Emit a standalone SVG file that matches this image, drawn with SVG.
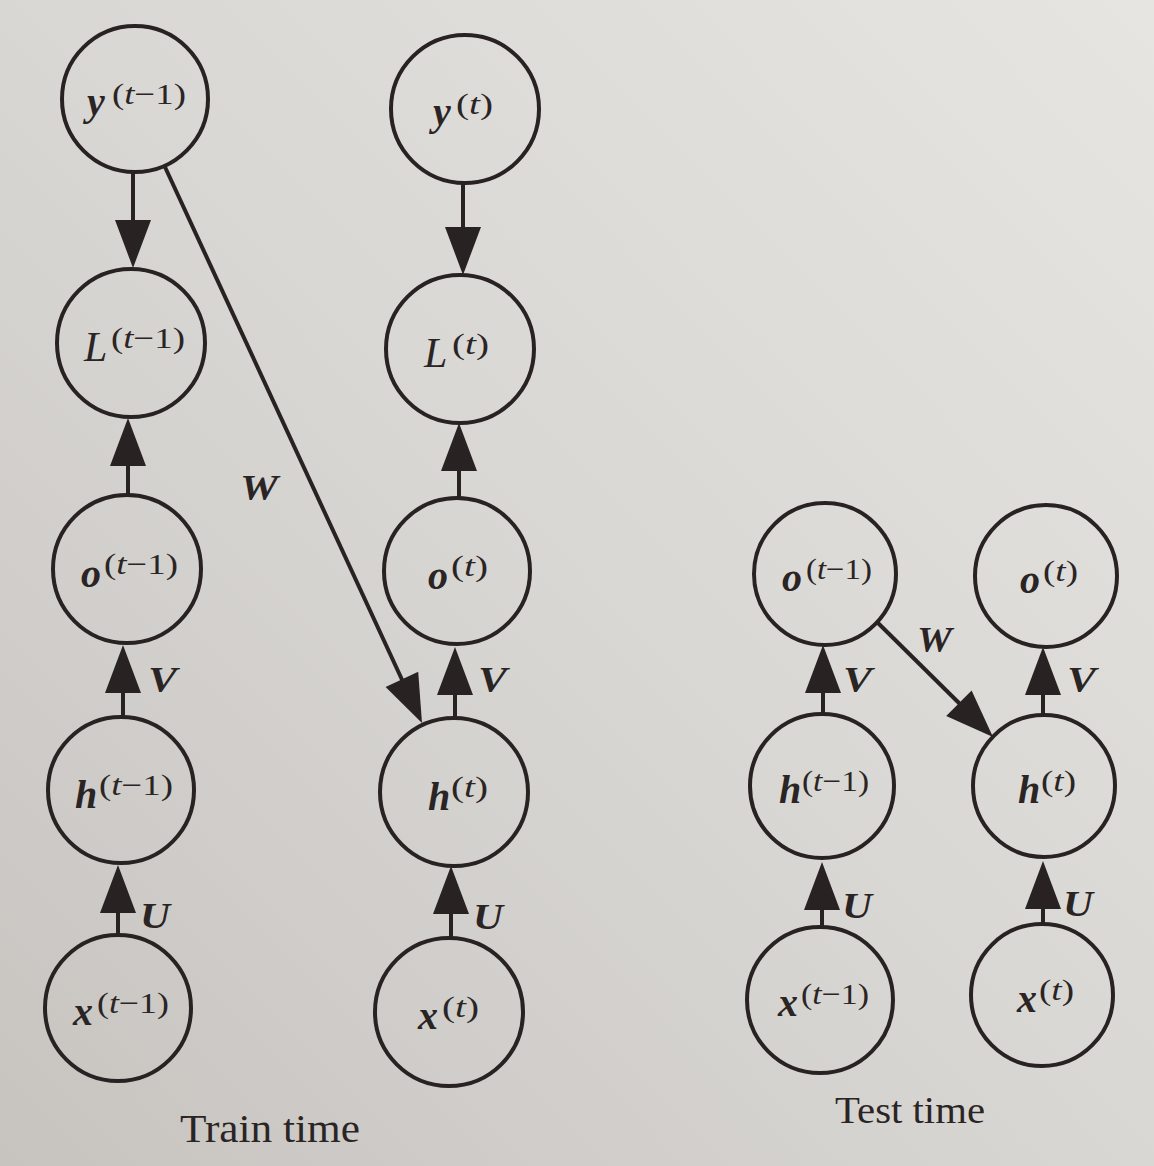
<svg xmlns="http://www.w3.org/2000/svg" width="1154" height="1166" viewBox="0 0 1154 1166">
<defs>
<linearGradient id="paper" x1="1" y1="0" x2="0" y2="1">
<stop offset="0" stop-color="#e7e5e2"/>
<stop offset="0.5" stop-color="#d9d7d4"/>
<stop offset="1" stop-color="#c7c4c0"/>
</linearGradient>
<style>
.node{fill:none;stroke:#282322;stroke-width:4}
.edge{stroke:#282322;stroke-width:4;fill:none}
.head{fill:#282322;stroke:none}
.m{font-family:"Liberation Serif","DejaVu Serif",serif;font-size:40px;font-weight:bold;font-style:italic;fill:#2a2524}
.mi{font-family:"Liberation Serif","DejaVu Serif",serif;font-size:42px;font-style:italic;fill:#2a2524}
.s{font-family:"Liberation Serif","DejaVu Serif",serif;font-size:30px;fill:#2a2524}
.s .t{font-style:italic}
.el{font-family:"Liberation Serif","DejaVu Serif",serif;font-size:36px;font-weight:bold;font-style:italic;fill:#2a2524}
.cap{font-family:"Liberation Serif","DejaVu Serif",serif;fill:#2a2524}
</style>
</defs>
<rect x="0" y="0" width="1154" height="1166" fill="url(#paper)"/>

<g id="connectors">
<line class="edge" x1="133" y1="172" x2="133" y2="225"/>
<polygon class="head" points="115,220 151,220 133,268"/>
<line class="edge" x1="128" y1="495" x2="128" y2="462"/>
<polygon class="head" points="110,466 146,466 128,418"/>
<line class="edge" x1="123" y1="717" x2="123" y2="690"/>
<polygon class="head" points="105,693 141,693 123,645"/>
<line class="edge" x1="118" y1="935" x2="118" y2="910"/>
<polygon class="head" points="100,913 136,913 118,865"/>
<line class="edge" x1="463" y1="183" x2="463" y2="232"/>
<polygon class="head" points="445,227 481,227 463,275"/>
<line class="edge" x1="459" y1="500" x2="459" y2="467"/>
<polygon class="head" points="441,471 477,471 459,423"/>
<line class="edge" x1="455" y1="718" x2="455" y2="691"/>
<polygon class="head" points="437,695 473,695 455,647"/>
<line class="edge" x1="451" y1="937" x2="451" y2="910"/>
<polygon class="head" points="433,914 469,914 451,866"/>
<line class="edge" x1="165" y1="167" x2="404" y2="684"/>
<polygon class="head" points="385.6,686.9 418.2,671.8 422,723"/>
<line class="edge" x1="823" y1="713" x2="823" y2="689"/>
<polygon class="head" points="805,693 841,693 823,645"/>
<line class="edge" x1="822" y1="926" x2="822" y2="906"/>
<polygon class="head" points="804,910 840,910 822,862"/>
<line class="edge" x1="1043" y1="715" x2="1043" y2="691"/>
<polygon class="head" points="1025,695 1061,695 1043,647"/>
<line class="edge" x1="1043" y1="923" x2="1043" y2="905"/>
<polygon class="head" points="1025,909 1061,909 1043,861"/>
<line class="edge" x1="877" y1="622" x2="962" y2="706"/>
<polygon class="head" points="946.2,716 971.6,690.4 993,737"/>
</g>

<g id="edge-labels">
<text class="el" x="240" y="500" textLength="38" lengthAdjust="spacingAndGlyphs">W</text>
<text class="el" x="148" y="692" textLength="29" lengthAdjust="spacingAndGlyphs">V</text>
<text class="el" x="478" y="692" textLength="29" lengthAdjust="spacingAndGlyphs">V</text>
<text class="el" x="140" y="928" textLength="30" lengthAdjust="spacingAndGlyphs">U</text>
<text class="el" x="473" y="929" textLength="30" lengthAdjust="spacingAndGlyphs">U</text>
<text class="el" x="917" y="652" textLength="35" lengthAdjust="spacingAndGlyphs">W</text>
<text class="el" x="843" y="692" textLength="29" lengthAdjust="spacingAndGlyphs">V</text>
<text class="el" x="1067" y="692" textLength="29" lengthAdjust="spacingAndGlyphs">V</text>
<text class="el" x="842" y="918" textLength="30" lengthAdjust="spacingAndGlyphs">U</text>
<text class="el" x="1063" y="916" textLength="30" lengthAdjust="spacingAndGlyphs">U</text>
</g>

<g id="node-y-tm1">
<circle class="node" cx="135" cy="99" r="73"/>
<text class="m" x="87" y="115">y</text>
<text class="s" x="112" y="104" textLength="74" lengthAdjust="spacingAndGlyphs">(<tspan class="t">t</tspan>−1)</text>
</g>
<g id="node-L-tm1">
<circle class="node" cx="131" cy="343" r="74"/>
<text class="mi" x="84" y="361">L</text>
<text class="s" x="111" y="348" textLength="74" lengthAdjust="spacingAndGlyphs">(<tspan class="t">t</tspan>−1)</text>
</g>
<g id="node-o-tm1">
<circle class="node" cx="127" cy="569" r="74"/>
<text class="m" x="81" y="587">o</text>
<text class="s" x="104" y="574" textLength="74" lengthAdjust="spacingAndGlyphs">(<tspan class="t">t</tspan>−1)</text>
</g>
<g id="node-h-tm1">
<circle class="node" cx="121" cy="790" r="73"/>
<text class="m" x="75" y="808">h</text>
<text class="s" x="99" y="795" textLength="74" lengthAdjust="spacingAndGlyphs">(<tspan class="t">t</tspan>−1)</text>
</g>
<g id="node-x-tm1">
<circle class="node" cx="118" cy="1008" r="73"/>
<text class="m" x="73" y="1025">x</text>
<text class="s" x="97" y="1013" textLength="72" lengthAdjust="spacingAndGlyphs">(<tspan class="t">t</tspan>−1)</text>
</g>

<g id="node-y-t">
<circle class="node" cx="465" cy="109" r="74"/>
<text class="m" x="433" y="125">y</text>
<text class="s" x="456" y="114" textLength="37" lengthAdjust="spacingAndGlyphs">(<tspan class="t">t</tspan>)</text>
</g>
<g id="node-L-t">
<circle class="node" cx="460" cy="349" r="74"/>
<text class="mi" x="424" y="367">L</text>
<text class="s" x="452" y="354" textLength="37" lengthAdjust="spacingAndGlyphs">(<tspan class="t">t</tspan>)</text>
</g>
<g id="node-o-t">
<circle class="node" cx="457" cy="571" r="73"/>
<text class="m" x="428" y="589">o</text>
<text class="s" x="451" y="576" textLength="37" lengthAdjust="spacingAndGlyphs">(<tspan class="t">t</tspan>)</text>
</g>
<g id="node-h-t">
<circle class="node" cx="454" cy="792" r="74"/>
<text class="m" x="428" y="810">h</text>
<text class="s" x="451" y="797" textLength="37" lengthAdjust="spacingAndGlyphs">(<tspan class="t">t</tspan>)</text>
</g>
<g id="node-x-t">
<circle class="node" cx="449" cy="1012" r="74"/>
<text class="m" x="418" y="1029">x</text>
<text class="s" x="442" y="1017" textLength="37" lengthAdjust="spacingAndGlyphs">(<tspan class="t">t</tspan>)</text>
</g>

<g id="test-node-o-tm1">
<circle class="node" cx="825" cy="574" r="71"/>
<text class="m" x="782" y="591">o</text>
<text class="s" x="806" y="579" textLength="66" lengthAdjust="spacingAndGlyphs">(<tspan class="t">t</tspan>−1)</text>
</g>
<g id="test-node-o-t">
<circle class="node" cx="1046" cy="576" r="71"/>
<text class="m" x="1020" y="593">o</text>
<text class="s" x="1043" y="581" textLength="35" lengthAdjust="spacingAndGlyphs">(<tspan class="t">t</tspan>)</text>
</g>
<g id="test-node-h-tm1">
<circle class="node" cx="822" cy="786" r="72"/>
<text class="m" x="779" y="803">h</text>
<text class="s" x="802" y="791" textLength="67" lengthAdjust="spacingAndGlyphs">(<tspan class="t">t</tspan>−1)</text>
</g>
<g id="test-node-h-t">
<circle class="node" cx="1044" cy="786" r="71"/>
<text class="m" x="1018" y="803">h</text>
<text class="s" x="1041" y="791" textLength="35" lengthAdjust="spacingAndGlyphs">(<tspan class="t">t</tspan>)</text>
</g>
<g id="test-node-x-tm1">
<circle class="node" cx="820" cy="1000" r="73"/>
<text class="m" x="778" y="1016">x</text>
<text class="s" x="801" y="1004" textLength="68" lengthAdjust="spacingAndGlyphs">(<tspan class="t">t</tspan>−1)</text>
</g>
<g id="test-node-x-t">
<circle class="node" cx="1042" cy="995" r="71"/>
<text class="m" x="1017" y="1012">x</text>
<text class="s" x="1039" y="1000" textLength="35" lengthAdjust="spacingAndGlyphs">(<tspan class="t">t</tspan>)</text>
</g>

<g id="captions">
<text class="cap" x="180" y="1142" font-size="39" textLength="180" lengthAdjust="spacingAndGlyphs">Train time</text>
<text class="cap" x="835" y="1123" font-size="37" textLength="150" lengthAdjust="spacingAndGlyphs">Test time</text>
</g>
</svg>
